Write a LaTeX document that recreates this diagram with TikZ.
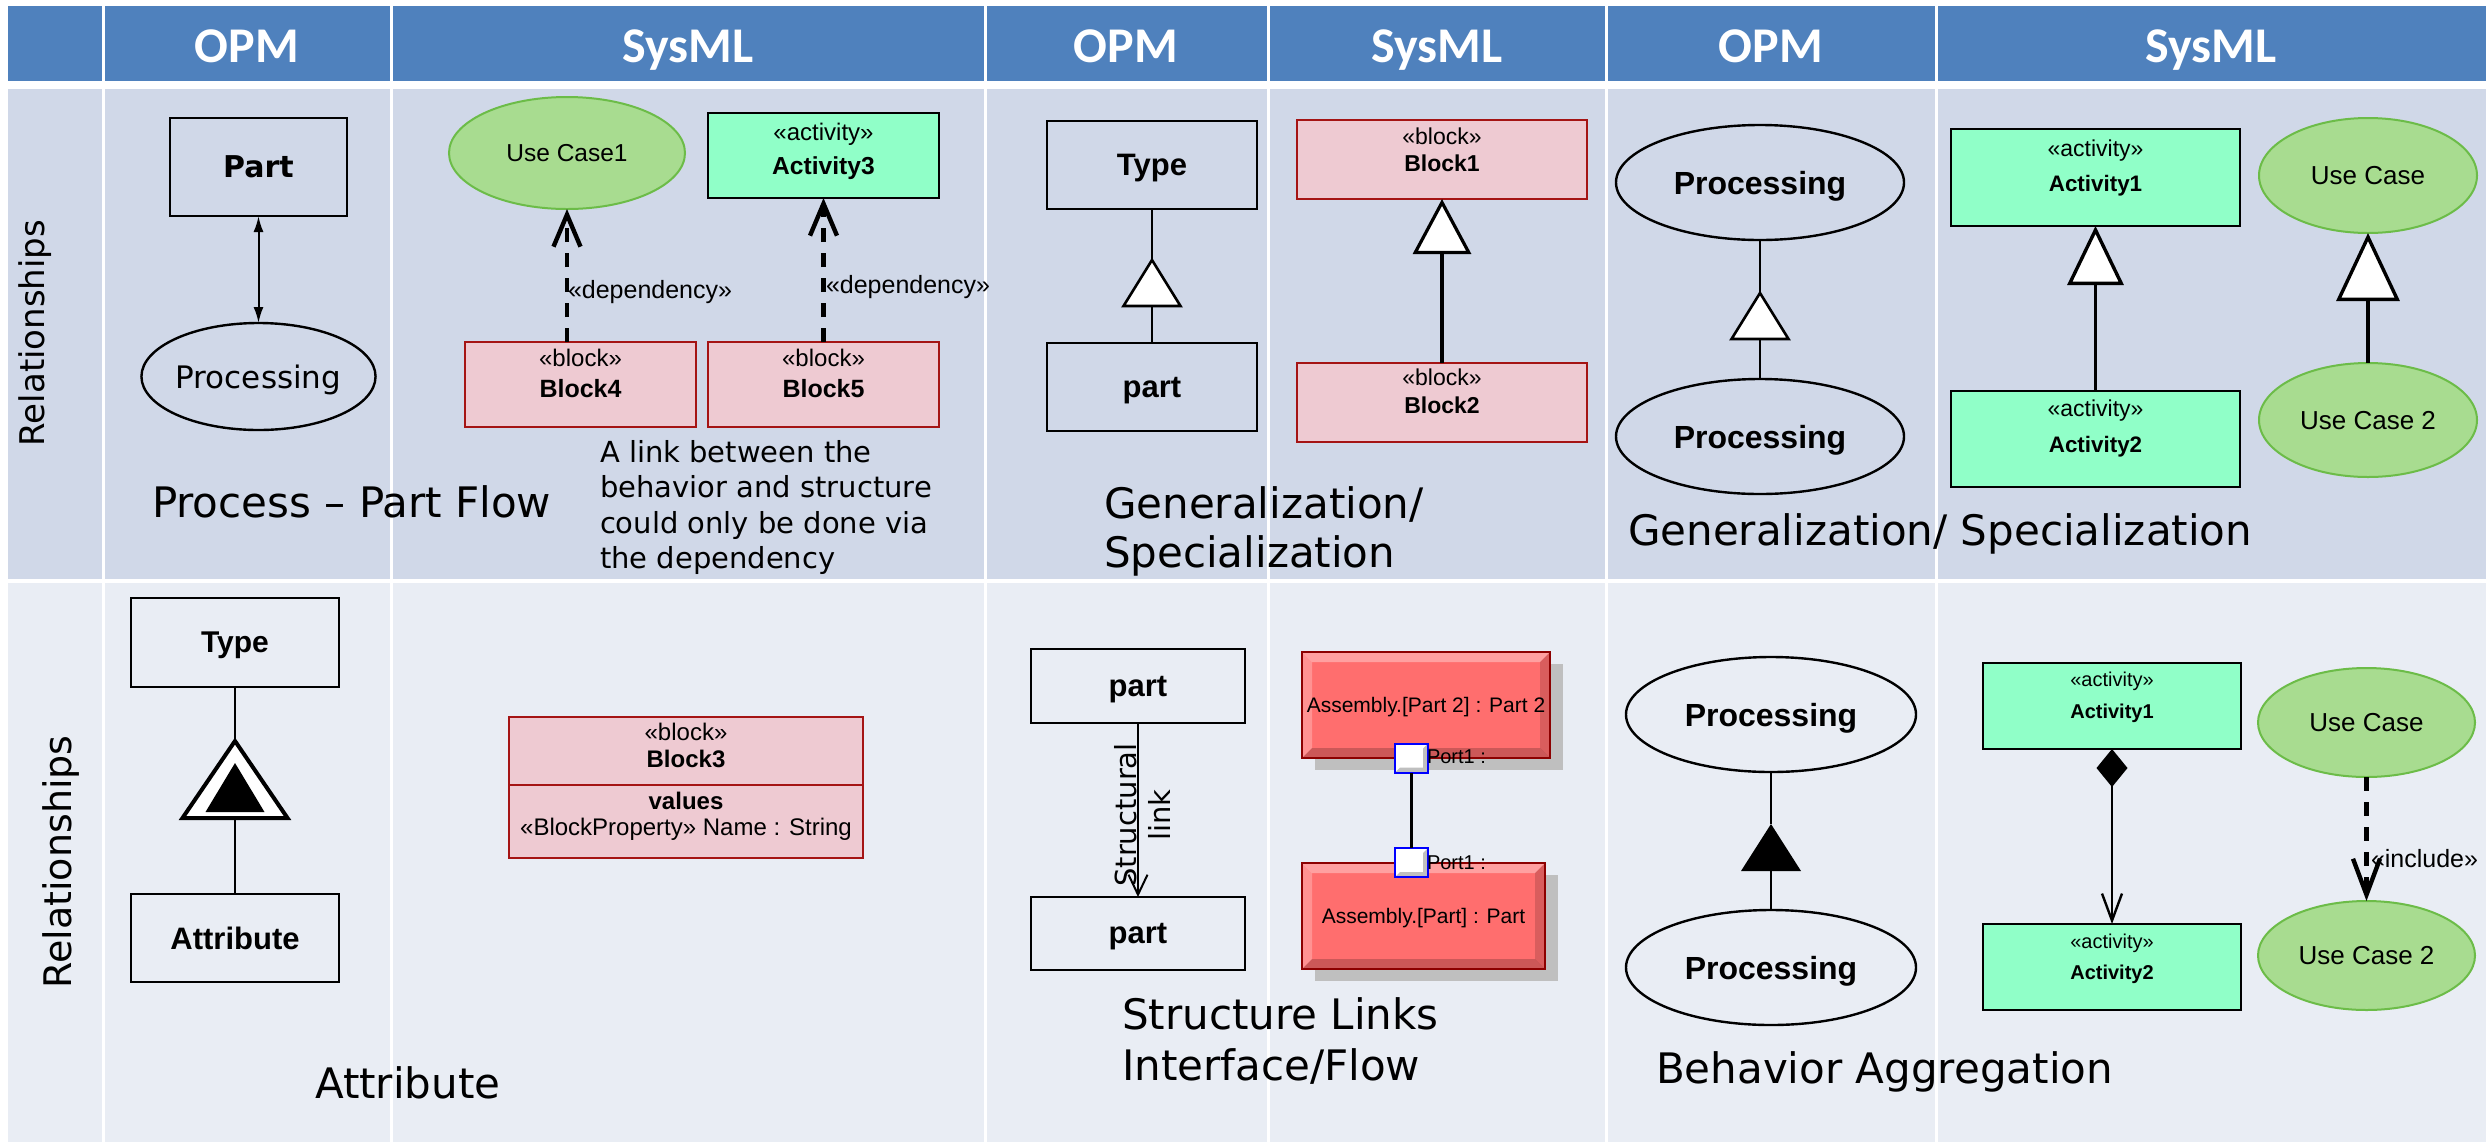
\documentclass[tikz,border=0pt]{standalone}
\usepackage{fontspec}
\setmainfont{DejaVu Sans}
\newfontfamily\hdrfont{Carlito}
\newfontfamily\arialf{Liberation Sans}
\usetikzlibrary{arrows.meta,shapes.geometric,shadows}
\definecolor{hdrblue}{RGB}{79,129,189}
\definecolor{rowone}{RGB}{208,216,232}
\definecolor{rowtwo}{RGB}{233,237,244}
\definecolor{ucfill}{RGB}{168,220,144}
\definecolor{ucdraw}{RGB}{108,188,72}
\definecolor{actfill}{RGB}{144,255,200}
\definecolor{blkfill}{RGB}{238,202,210}
\definecolor{blkdraw}{RGB}{165,20,20}
\definecolor{asmfill}{RGB}{255,110,110}
\definecolor{asmdraw}{RGB}{140,0,0}
\begin{document}
\begin{tikzpicture}[x=0.5pt,y=-0.5pt,
 every node/.style={inner sep=0pt,outer sep=0pt},
 hdr/.style={font=\hdrfont\bfseries\fontsize{25}{30}\selectfont,text=white,anchor=base},
 rel/.style={font=\fontsize{#1}{#1}\selectfont,rotate=90,anchor=base},
 biglbl/.style={font=\fontsize{21}{25}\selectfont,anchor=base west},
 paratxt/.style={font=\fontsize{14.5}{17}\selectfont,anchor=base west},
 opmbox/.style={draw=black,line width=1.3pt,rectangle,text depth=0pt},
 opmell/.style={draw=black,line width=1.2pt,ellipse,text depth=0pt},
 opmline/.style={line width=1pt},
 opmtri/.style={draw=black,line width=1.3pt,fill=white,line join=miter},
 vfont/.style={font=\fontsize{#1}{#1}\selectfont},
 vbold/.style={font=\bfseries\fontsize{#1}{#1}\selectfont},
 abold/.style={font=\arialf\bfseries\fontsize{#1}{#1}\selectfont},
 sy/.style={font=\arialf\fontsize{#1}{#1}\selectfont,text depth=0pt},
 syb/.style={font=\arialf\bfseries\fontsize{#1}{#1}\selectfont,text depth=0pt},
 ucell/.style={ellipse,draw=ucdraw,line width=1pt,fill=ucfill,text depth=0pt,font=\arialf\fontsize{#1}{#1}\selectfont},
 actbox/.style={rectangle,draw=black,line width=1pt,fill=actfill},
 blkbox/.style={rectangle,draw=blkdraw,line width=0.9pt,fill=blkfill},
 asmbox/.style={rectangle,draw=asmdraw,line width=1pt,fill=asmfill,text depth=0pt,
   font=\arialf\fontsize{10.5}{12}\selectfont,
   drop shadow={shadow xshift=6.5pt,shadow yshift=-6pt,fill=black!25,opacity=1},
   path picture={
     \fill[white,opacity=0.35] (path picture bounding box.north west) -- (path picture bounding box.north east)
       -- ([xshift=-5pt,yshift=-5pt]path picture bounding box.north east) -- ([xshift=5pt,yshift=-5pt]path picture bounding box.north west) -- cycle;
     \fill[white,opacity=0.25] (path picture bounding box.north west) -- (path picture bounding box.south west)
       -- ([xshift=5pt,yshift=5pt]path picture bounding box.south west) -- ([xshift=5pt,yshift=-5pt]path picture bounding box.north west) -- cycle;
     \fill[black,opacity=0.2] (path picture bounding box.south west) -- (path picture bounding box.south east)
       -- ([xshift=-5pt,yshift=5pt]path picture bounding box.south east) -- ([xshift=5pt,yshift=5pt]path picture bounding box.south west) -- cycle;
     \fill[black,opacity=0.15] (path picture bounding box.north east) -- (path picture bounding box.south east)
       -- ([xshift=-5pt,yshift=5pt]path picture bounding box.south east) -- ([xshift=-5pt,yshift=-5pt]path picture bounding box.north east) -- cycle;
   }},
 portbox/.style={rectangle,draw=blue,line width=1pt,fill=white,minimum width=16.5pt,minimum height=14.5pt,
   path picture={
     \fill[black!25] (path picture bounding box.south west) -- (path picture bounding box.south east) -- (path picture bounding box.north east)
       -- ([xshift=-2.5pt,yshift=-2.5pt]path picture bounding box.north east) -- ([xshift=-2.5pt,yshift=2.5pt]path picture bounding box.south east)
       -- ([xshift=2.5pt,yshift=2.5pt]path picture bounding box.south west) -- cycle;
   }},
 portlbl/.style={font=\arialf\fontsize{10}{12}\selectfont,anchor=west,text depth=0pt},
 depline/.style={line width=2.2pt,dash pattern=on 7pt off 5.5pt},
]
\useasboundingbox (0,0) rectangle (2486,1142);
% ---------- table ----------
\fill[white] (0,0) rectangle (2486,1142);
\fill[hdrblue] (8,6) rectangle (2486,81);
\fill[rowone] (8,89) rectangle (2486,579);
\fill[rowtwo] (8,583) rectangle (2486,1142);
\foreach \xx in {103,391,985,1268,1606,1936} \draw[white,line width=1.5pt] (\xx,6) -- (\xx,1142);
% header
\node[hdr] (h1) at (247,62) {OPM};
\node[hdr] (h2) at (688,62) {SysML};
\node[hdr] (h3) at (1126,62) {OPM};
\node[hdr] (h4) at (1437,62) {SysML};
\node[hdr] (h5) at (1771,62) {OPM};
\node[hdr] (h6) at (2211,62) {SysML};
\node[rel=17] (r1) at (45,333) {Relationships};
\node[rel=19] (r2) at (71,862) {Relationships};

% ---------- row 1, OPM: process-part ----------
\node[opmbox,vbold=15,minimum width=88.5pt,minimum height=49pt] (partTL) at (258.5,167) {Part};
\node[opmell,vfont=15.5,minimum width=115.5pt,minimum height=53.5pt] (procTL) at (258.5,376.5) {Processing};
\draw[opmline,{Latex[length=8pt,width=5pt]}-{Latex[length=8pt,width=5pt]}] (partTL.south) -- (procTL.north);
\node[biglbl] (l1) at (152,517) {Process – Part Flow};

% ---------- row 1, SysML: dependency ----------
\node[ucell=12.25,minimum width=118pt,minimum height=56pt] (uc1) at (567,153) {Use Case1};
\node[actbox,minimum width=115.5pt,minimum height=42.5pt] (act3) at (823.5,155.5) {};
\node[sy=12] (act3s) at (823.5,132) {«activity»};
\node[syb=12.3] (act3n) at (823.5,166) {Activity3};
\node[blkbox,minimum width=115.5pt,minimum height=42.5pt] (blk4) at (580.5,384.5) {};
\node[sy=12] (blk4s) at (580.5,358) {«block»};
\node[syb=12.5] (blk4n) at (580.5,388) {Block4};
\node[blkbox,minimum width=115.5pt,minimum height=42.5pt] (blk5) at (823.5,384.5) {};
\node[sy=12] (blk5s) at (823.5,358) {«block»};
\node[syb=12.5] (blk5n) at (823.5,388) {Block5};
\draw[depline,-{Straight Barb[length=16pt,width=13.5pt]}] (blk4.north -| uc1.south) -- (uc1.south);
\draw[depline,-{Straight Barb[length=16pt,width=13.5pt]}] (blk5.north) -- (act3.south);
\node[sy=12.5,anchor=west] (dep1) at (568,289) {«dependency»};
\node[sy=12.5,anchor=west] (dep2) at (826,284) {«dependency»};
\node[paratxt] (p1) at (600,462) {A link between the};
\node[paratxt] (p2) at (600,497) {behavior and structure};
\node[paratxt] (p3) at (600,533) {could only be done via};
\node[paratxt] (p4) at (600,568) {the dependency};

% ---------- row 1, OPM: generalization ----------
\node[opmbox,abold=15.5,minimum width=105pt,minimum height=44pt] (typeA) at (1152,165) {Type};
\node[opmbox,abold=15.5,minimum width=105pt,minimum height=44pt] (partA) at (1152,387) {part};
\coordinate (g1a) at (1152,260);
\coordinate (g1b) at (1152,306);
\draw[opmline] (typeA.south) -- (g1a);
\draw[opmline] (g1b) -- (partA.north);
\draw[opmtri] (g1a) -- ([xshift=-14.25pt]g1b) -- ([xshift=14.25pt]g1b) -- cycle;
\node[biglbl] (l2a) at (1104,518) {Generalization/};
\node[biglbl] (l2b) at (1104,567) {Specialization};

% ---------- row 1, SysML: block generalization ----------
\node[blkbox,minimum width=145pt,minimum height=39.5pt] (blk1) at (1442,159.5) {};
\node[sy=11.5] (blk1s) at (1442,136) {«block»};
\node[syb=11.5] (blk1n) at (1442,163) {Block1};
\node[blkbox,minimum width=145pt,minimum height=39.5pt] (blk2) at (1442,402.5) {};
\node[sy=11.5] (blk2s) at (1442,377) {«block»};
\node[syb=11.5] (blk2n) at (1442,405) {Block2};
\draw[line width=1.6pt,-{Triangle[fill=white,length=27.5pt,width=29pt]}] (blk2.north) -- (blk1.south);

% ---------- row 1, OPM: process generalization ----------
\node[opmell,abold=16,minimum width=144pt,minimum height=57.5pt] (procA) at (1760,182.5) {Processing};
\node[opmell,abold=16,minimum width=144pt,minimum height=57.5pt] (procB) at (1760,436.5) {Processing};
\coordinate (g2a) at (1760,293);
\coordinate (g2b) at (1760,339);
\draw[opmline] (procA.south) -- (g2a);
\draw[opmline] (g2b) -- (procB.north);
\draw[opmtri] (g2a) -- ([xshift=-14.25pt]g2b) -- ([xshift=14.25pt]g2b) -- cycle;
\node[biglbl] (l3) at (1628,545) {Generalization/ Specialization};

% ---------- row 1, SysML: activity / use case generalization ----------
\node[actbox,minimum width=144.5pt,minimum height=48.5pt] (act1a) at (2095.5,177.5) {};
\node[sy=11.5] (act1as) at (2095.5,148) {«activity»};
\node[syb=11.2] (act1an) at (2095.5,183) {Activity1};
\node[actbox,minimum width=144.5pt,minimum height=48pt] (act2a) at (2095.5,439) {};
\node[sy=11.5] (act2as) at (2095.5,408) {«activity»};
\node[syb=11.2] (act2an) at (2095.5,444) {Activity2};
\draw[line width=1.7pt,-{Triangle[fill=white,length=29.5pt,width=28pt]}] (act2a.north) -- (act1a.south);
\node[ucell=13,minimum width=109pt,minimum height=57.5pt] (ucA) at (2368,175.5) {Use Case};
\node[ucell=13,minimum width=109pt,minimum height=57pt] (uc2A) at (2368,420) {Use Case 2};
\draw[line width=1.7pt,-{Triangle[fill=white,length=34pt,width=31.5pt]}] (uc2A.north) -- (ucA.south);

% ---------- row 2, OPM: attribute ----------
\node[opmbox,abold=15,minimum width=104pt,minimum height=44.5pt] (typeB) at (235,642.5) {Type};
\node[opmbox,abold=15.5,minimum width=104pt,minimum height=44pt] (attr) at (235,938) {Attribute};
\coordinate (g3a) at (235,741);
\coordinate (g3b) at (235,818);
\coordinate (g3c) at (235,763);
\coordinate (g3d) at (235,812);
\draw[opmline] (typeB.south) -- (g3a);
\draw[opmline] (g3b) -- (attr.north);
\draw[draw=black,line width=2pt,fill=white,line join=miter] (g3a) -- ([xshift=-26.25pt]g3b) -- ([xshift=26.25pt]g3b) -- cycle;
\fill[black] (g3c) -- ([xshift=-14.75pt]g3d) -- ([xshift=14.75pt]g3d) -- cycle;
\node[biglbl] (l4) at (315,1098) {Attribute};

% ---------- row 2, SysML: block values ----------
\node[blkbox,minimum width=177pt,minimum height=70.5pt] (blk3) at (686,787.5) {};
\draw[blkdraw,line width=0.9pt] (blk3.west |- 0,785) -- (blk3.east |- 0,785);
\node[sy=12] (blk3s) at (686,732) {«block»};
\node[syb=12] (blk3n) at (686,759) {Block3};
\node[syb=12] (blk3v) at (686,801) {values};
\node[sy=12] (blk3p) at (686,827) {«BlockProperty» Name : String};

% ---------- row 2, OPM: structural link ----------
\node[opmbox,abold=15.5,minimum width=107pt,minimum height=37pt] (partB) at (1138,686) {part};
\node[opmbox,abold=15.5,minimum width=107pt,minimum height=36.5pt] (partC) at (1138,933.5) {part};
\draw[opmline,-{Straight Barb[length=10pt,width=9.5pt]}] (partB.south) -- (partC.north);
\node[font=\fontsize{14.5}{17}\selectfont,rotate=90,align=center] (slink) at (1142,815) {Structural\\link};
\node[biglbl] (l5a) at (1122,1029) {Structure Links};
\node[biglbl] (l5b) at (1122,1080) {Interface/Flow};

% ---------- row 2, SysML: ports ----------
\node[asmbox,minimum width=124pt,minimum height=53pt] (asm1) at (1426,705) {Assembly.[Part 2] : Part 2};
\node[asmbox,minimum width=121.5pt,minimum height=53pt] (asm2) at (1423.5,916) {Assembly.[Part] : Part};
\node[portbox] (port1) at (1411.5,758) {};
\node[portbox] (port2) at (1411.5,862.5) {};
\draw[line width=1.3pt] (port1.south) -- (port2.north);
\node[portlbl] (pl1) at (1427,757) {Port1 :};
\node[portlbl] (pl2) at (1427,863) {Port1 :};

% ---------- row 2, OPM: behavior aggregation ----------
\node[opmell,abold=16,minimum width=145pt,minimum height=57.5pt] (procC) at (1771,714.5) {Processing};
\node[opmell,abold=16,minimum width=145pt,minimum height=57.5pt] (procD) at (1771,967.5) {Processing};
\coordinate (g4a) at (1771,824);
\coordinate (g4b) at (1771,871);
\draw[opmline] (procC.south) -- (g4a);
\draw[opmline] (g4b) -- (procD.north);
\fill[black] (g4a) -- ([xshift=-15pt]g4b) -- ([xshift=15pt]g4b) -- cycle;
\node[biglbl] (l6) at (1656,1083) {Behavior Aggregation};

% ---------- row 2, SysML: composition / include ----------
\node[actbox,minimum width=129pt,minimum height=43pt] (act1b) at (2112,706) {};
\node[sy=10] (act1bs) at (2112,679) {«activity»};
\node[syb=10] (act1bn) at (2112,711) {Activity1};
\node[actbox,minimum width=129pt,minimum height=43pt] (act2b) at (2112,967) {};
\node[sy=10] (act2bs) at (2112,941) {«activity»};
\node[syb=10] (act2bn) at (2112,972) {Activity2};
\draw[line width=1.2pt,{Diamond[length=19pt,width=15.5pt]}-{Straight Barb[length=13.5pt,width=10pt]}] (act1b.south) -- (act2b.north);
\node[ucell=13,minimum width=108.5pt,minimum height=54.5pt] (ucB) at (2366.5,722.5) {Use Case};
\node[ucell=13,minimum width=108.5pt,minimum height=54.5pt] (uc2B) at (2366.5,955.5) {Use Case 2};
\draw[depline,-{Straight Barb[length=18pt,width=13.5pt]}] (ucB.south) -- (uc2B.north);
\node[sy=12.5,anchor=west] (incl) at (2371,858) {«include»};
\end{tikzpicture}
\end{document}
